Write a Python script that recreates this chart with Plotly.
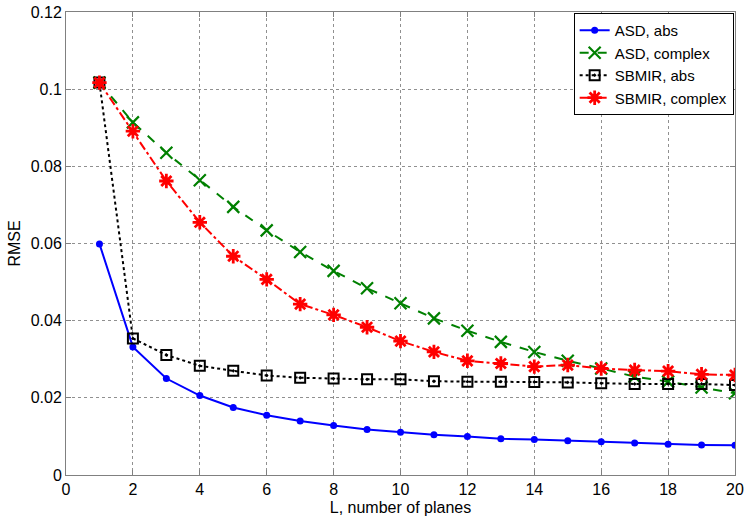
import plotly.graph_objects as go

L = list(range(1, 21))

asd_abs = [0.0599, 0.0332, 0.0250, 0.0206, 0.0175, 0.0155, 0.0140, 0.0128, 0.0118, 0.0111,
           0.0104, 0.0100, 0.0094, 0.0092, 0.0089, 0.0086, 0.0083, 0.0080, 0.0078, 0.0077]
asd_complex = [0.1017, 0.0914, 0.0835, 0.0764, 0.0695, 0.0634, 0.0578, 0.0529, 0.0484, 0.0445,
               0.0406, 0.0374, 0.0345, 0.0319, 0.0296, 0.0276, 0.0255, 0.0242, 0.0227, 0.0212]
sbmir_abs = [0.1017, 0.0354, 0.0311, 0.0283, 0.0270, 0.0258, 0.0252, 0.0250, 0.0248, 0.0248,
             0.0243, 0.0242, 0.0242, 0.0241, 0.0240, 0.0238, 0.0236, 0.0236, 0.0236, 0.0233]
sbmir_complex = [0.1017, 0.0891, 0.0762, 0.0655, 0.0567, 0.0507, 0.0443, 0.0415, 0.0383, 0.0347,
                 0.0319, 0.0296, 0.0289, 0.0281, 0.0285, 0.0276, 0.0272, 0.0269, 0.0261, 0.0259]

x_ticks = list(range(0, 21, 2))
y_ticks = [0, 0.02, 0.04, 0.06, 0.08, 0.1, 0.12]
y_tick_text = ["0", "0.02", "0.04", "0.06", "0.08", "0.1", "0.12"]

FONT = "Liberation Sans, Arial, sans-serif"

fig = go.Figure()
fig.add_trace(go.Scatter(x=L, y=asd_abs, name="ASD, abs", mode="lines+markers",
                         line=dict(color="#0000ff", width=2),
                         marker=dict(symbol="circle", size=7, color="#0000ff")))
fig.add_trace(go.Scatter(x=L, y=asd_complex, name="ASD, complex", mode="lines+markers",
                         line=dict(color="#008000", width=2, dash="dash"),
                         marker=dict(symbol="x-thin-open", size=12, color="#008000",
                                     line=dict(color="#008000", width=2.2))))
fig.add_trace(go.Scatter(x=L, y=sbmir_abs, name="SBMIR, abs", mode="lines+markers",
                         line=dict(color="#000000", width=2, dash="dot"),
                         marker=dict(symbol="square-open-dot", size=10, color="#000000",
                                     line=dict(color="#000000", width=2))))
fig.add_trace(go.Scatter(x=L, y=sbmir_complex, name="SBMIR, complex", mode="lines+markers",
                         line=dict(color="#ff0000", width=2, dash="dashdot"),
                         marker=dict(symbol="asterisk-open", size=12, color="#ff0000",
                                     line=dict(color="#ff0000", width=2.8))))

axis_common = dict(showline=True, linecolor="#808080", linewidth=1, mirror="ticks",
                   ticks="inside", ticklen=5, tickcolor="#808080", automargin=False,
                   ticklabeloverflow="allow",
                   showgrid=True, gridcolor="#909090", griddash="dot", gridwidth=1,
                   zeroline=False, tickfont=dict(family=FONT, size=16, color="#000"))

fig.update_xaxes(range=[0, 20], tickvals=x_ticks, ticktext=[str(v) for v in x_ticks],
                 title=dict(text="L, number of planes", font=dict(family=FONT, size=16, color="#000"), standoff=4),
                 **axis_common)
fig.update_yaxes(range=[0, 0.12], tickvals=y_ticks, ticktext=y_tick_text,
                 title=dict(text="RMSE", font=dict(family=FONT, size=16, color="#000"), standoff=6),
                 **axis_common)

fig.update_layout(
    width=745, height=523,
    margin=dict(l=66, r=10, t=12, b=48, autoexpand=False),
    plot_bgcolor="white", paper_bgcolor="white",
    font=dict(family=FONT, size=16, color="#000"),
    legend=dict(x=0.998, y=0.998, xanchor="right", yanchor="top",
                bgcolor="white", bordercolor="#000", borderwidth=1,
                font=dict(size=15), tracegroupgap=0, itemwidth=30),
    showlegend=True,
)

# remove the default 8px page margin so the figure sits at the window's corner
fig.write_html("out.html", config={"displayModeBar": False},
               post_script="document.body.style.margin='0';")
